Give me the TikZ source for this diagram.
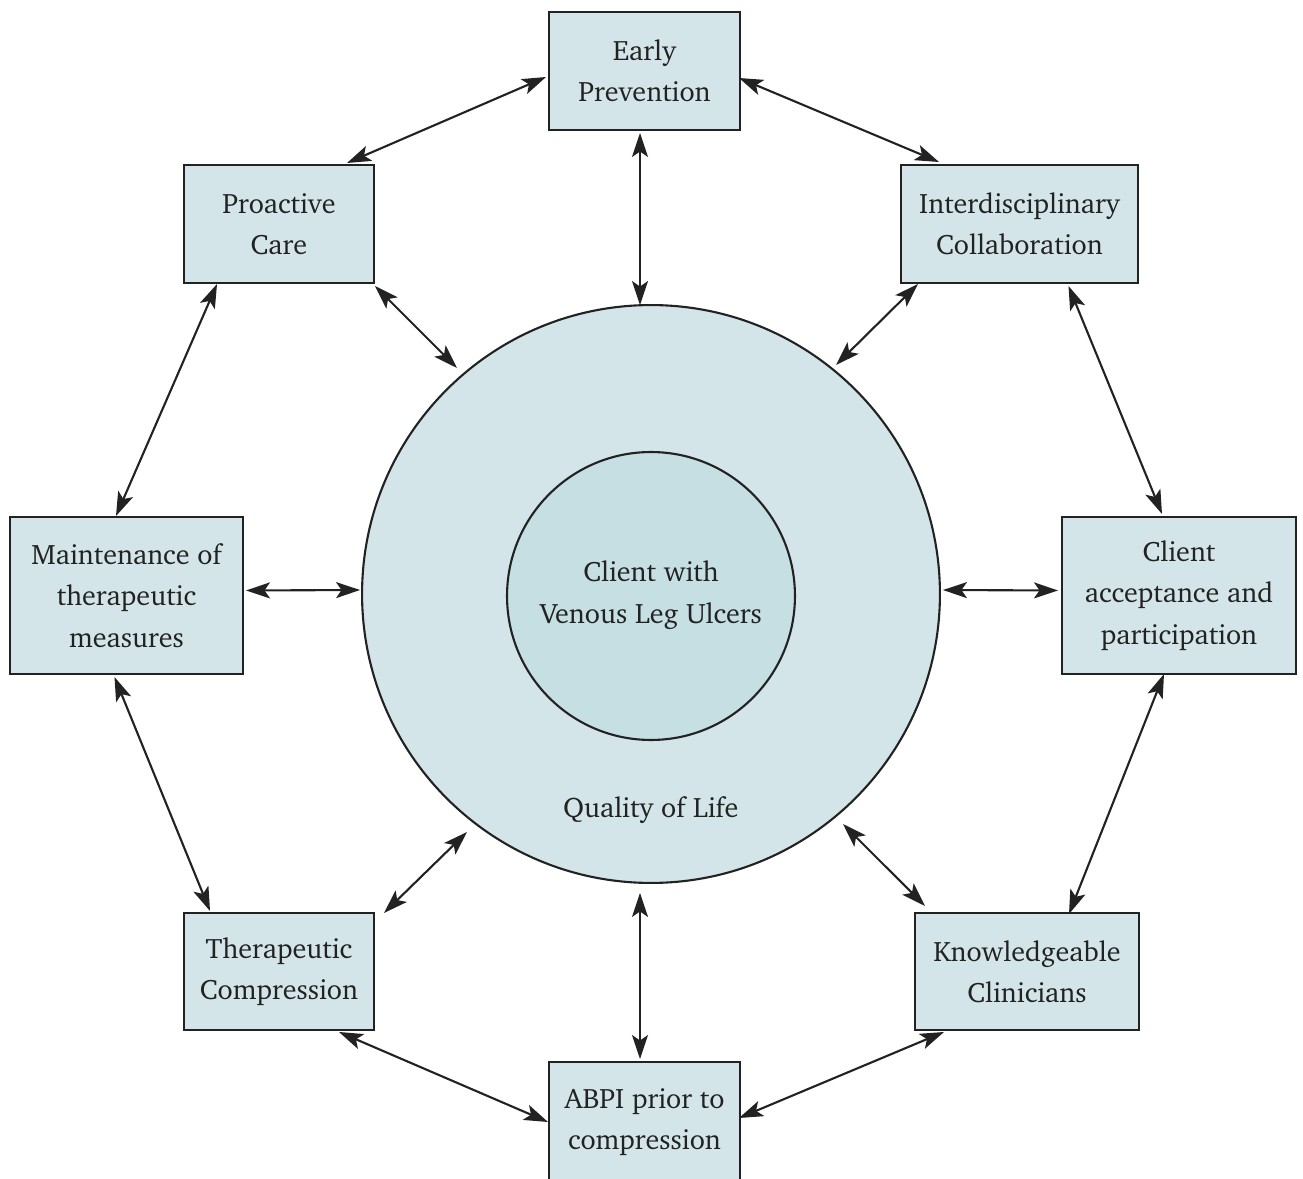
\documentclass[tikz,border=0pt]{standalone}
\usepackage[T1]{fontenc}
\usepackage{charter}
\usetikzlibrary{arrows.meta,calc}
\definecolor{boxfill}{HTML}{D3E5E8}
\definecolor{corefill}{HTML}{C5DFE3}
\definecolor{inkline}{HTML}{222222}
\begin{document}
\begin{tikzpicture}[x=0.02cm, y=-0.02cm,
  every node/.style={outer sep=0pt, text=inkline, font=\fontsize{16}{23.5}\selectfont},
  careitem/.style={shape=rectangle, draw=inkline, line width=1.4pt, fill=boxfill, align=center, inner sep=0pt},
  ring/.style={shape=circle, draw=inkline, line width=1.2pt, inner sep=0pt},
  biarrow/.style={draw=inkline, line width=1.2pt, {Stealth[length=0.48cm, width=0.32cm, inset=0.11cm]}-{Stealth[length=0.48cm, width=0.32cm, inset=0.11cm]}}]
%%%%%%%%%%%%%%%%%%%%%%%%%%%%%%%%%%%%%%%%%%% HELP LINES
%\draw[help lines] (0,0) grid +(1303,1179);
\useasboundingbox (0,0) rectangle (1303,1179);

%%%%%%%%%%%%%%%%%%%%%%%%%%%%%%%%%%%%%%%%%%% circles
\node[ring, fill=boxfill, minimum size=11.56cm](qol) at (651,594){};
\node[ring, fill=corefill, minimum size=5.76cm](cvl) at (651,596){};
\node[align=center](client) at (651,595){Client with\\Venous Leg Ulcers};
\node(life) at (651,810){Quality of Life};

%%%%%%%%%%%%%%%%%%%%%%%%%%%%%%%%%%%%%%%%%%% elements
\node[careitem, minimum width=3.82cm, minimum height=2.36cm](ep) at (644.5,71){Early\\Prevention};
\node[careitem, minimum width=3.80cm, minimum height=2.36cm](pc) at (279,224){Proactive\\Care};
\node[careitem, minimum width=4.74cm, minimum height=2.36cm](ic) at (1019.5,224){Interdisciplinary\\Collaboration};
\node[careitem, minimum width=4.66cm, minimum height=3.14cm](mt) at (126.5,595.5){Maintenance of\\therapeutic\\measures};
\node[careitem, minimum width=4.68cm, minimum height=3.14cm](ca) at (1179,595.5){Client\\acceptance and\\participation};
\node[careitem, minimum width=3.80cm, minimum height=2.34cm](tc) at (279,971.5){Therapeutic\\Compression};
\node[careitem, minimum width=4.48cm, minimum height=2.34cm](kc) at (1027,971.5){Knowledgeable\\Clinicians};
\node[careitem, minimum width=3.82cm, minimum height=2.40cm](ab) at (644.5,1122){ABPI prior to\\compression};

%%%%% outer ring of arrows
\draw[biarrow] ($(ep.west)+(-3,6)$) -- ($(pc.north east)+(-27,-2)$);
\draw[biarrow] ($(ep.east)+(-1,7)$) -- ($(ic.north west)+(38,-3)$);
\draw[biarrow] ($(pc.south west)+(33,1)$) -- ($(mt.north)+(-10.5,-1)$);
\draw[biarrow] ($(ic.south)+(49,3)$) -- ($(ca.north)+(-17,-3)$);
\draw[biarrow] ($(mt.south)+(-12,3)$) -- ($(tc.north west)+(26,-2)$);
\draw[biarrow] ($(ca.south)+(-15,0)$) -- ($(kc.north)+(42,1)$);
\draw[biarrow] ($(tc.south east)+(-35,2)$) -- ($(ab.west)+(-1,0)$);
\draw[biarrow] ($(kc.south west)+(29,2)$) -- ($(ab.east)+(-1,-4)$);

%%%%% spokes to the centre
\draw[biarrow] ($(ep.south)+(-4.5,3)$) -- ($(qol.north)+(-11,0)$);
\draw[biarrow] ($(pc.south east)+(1,3)$) -- ($(qol.center)+(-194,-226)$);
\draw[biarrow] ($(ic.south west)+(17,1)$) -- ($(qol.center)+(185,-229)$);
\draw[biarrow] ($(mt.east)+(3,-5)$) -- ($(qol.west)+(-2,-4)$);
\draw[biarrow] ($(ca.west)+(-4,-5)$) -- ($(qol.east)+(3,-4)$);
\draw[biarrow] ($(tc.north east)+(10,0)$) -- ($(qol.center)+(-184,238)$);
\draw[biarrow] ($(kc.north west)+(10,-7)$) -- ($(qol.center)+(192,230)$);
\draw[biarrow] ($(ab.north)+(-4.5,-3)$) -- ($(qol.south)+(-11,10)$);
\end{tikzpicture}
\end{document}
